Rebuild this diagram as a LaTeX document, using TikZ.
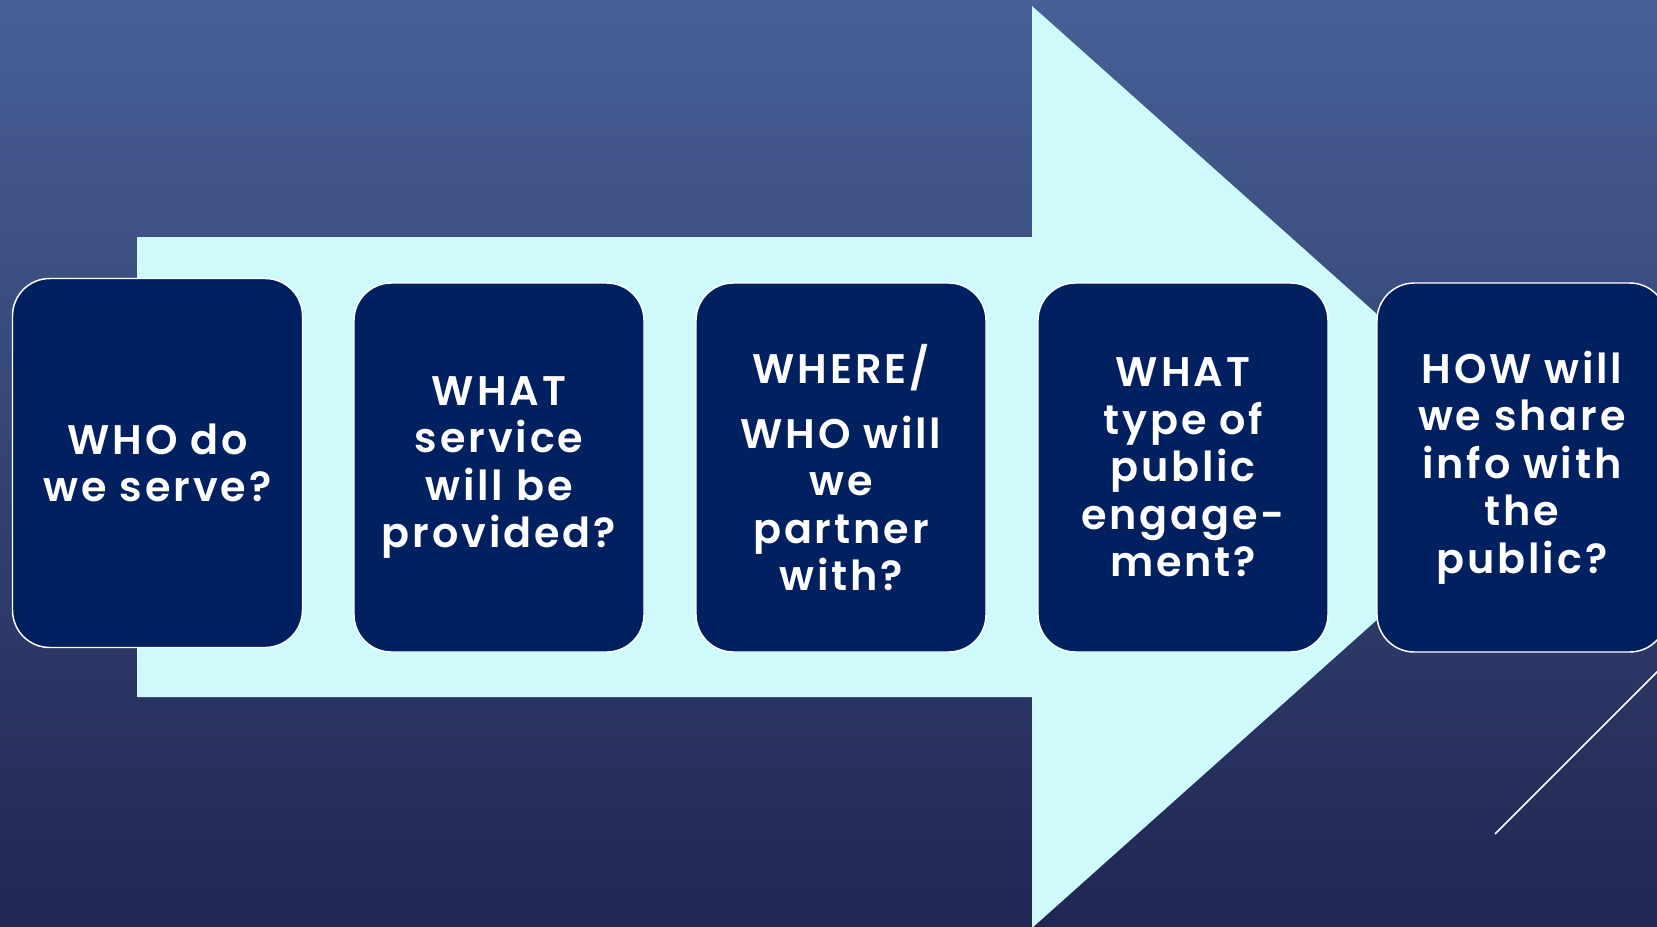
\documentclass[tikz,border=0pt]{standalone}
\usepackage{fontspec}
\setmainfont{Poppins}[BoldFont={* SemiBold}, BoldFeatures={LetterSpace=7}]
\definecolor{bgtop}{RGB}{71,96,149}
\definecolor{bgbot}{RGB}{33,38,82}
\definecolor{arrowcyan}{RGB}{206,250,252}
\definecolor{boxblue}{RGB}{0,32,96}
\tikzset{
  qbox/.style={rectangle, rounded corners=28pt, fill=boxblue, draw=white, line width=1.1pt,
    minimum width=217.5pt, minimum height=276.75pt, inner sep=0pt,
    text=white, align=center,
    font=\fontsize{31}{35.6}\selectfont\bfseries},
}
\begin{document}
\begin{tikzpicture}[x=0.75pt,y=-0.75pt]
\useasboundingbox (0,0) rectangle (1657,926);
\clip (0,0) rectangle (1657,926);
\shade[top color=bgtop, bottom color=bgbot] (0,0) rectangle (1657,926);
% big arrow
\fill[arrowcyan] (137,237) -- (1032,237) -- (1032,6) -- (1548,467) -- (1032,928) -- (1032,697) -- (137,697) -- cycle;
% boxes
\node[qbox] (b1) at (157.5,463) {WHO do\\we serve?};
\node[qbox] (b2) at (499,467.5) {WHAT\\service\\will be\\provided?};
\node[qbox] (b3) at (841,467.5) {WHERE/\\[13pt]WHO will\\we\\partner\\with?};
\node[qbox] (b4) at (1183,467.5) {WHAT\\type of\\public\\engage-\\ment?};
\node[qbox] (b5) at (1522,467.5) {HOW will\\we share\\info with\\the\\public?};
% decorative line
\coordinate (l1) at (1495,834);
\coordinate (l2) at (1665,664);
\draw[white, line width=1.1pt] (l1) -- (l2);
\end{tikzpicture}
\end{document}
